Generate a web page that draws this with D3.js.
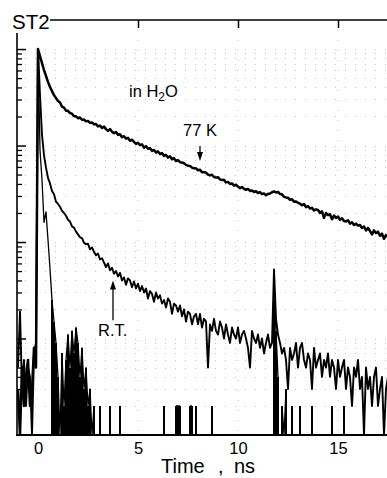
<!DOCTYPE html>
<html>
<head>
<meta charset="utf-8">
<script src="https://cdn.jsdelivr.net/npm/d3@7"></script>
<style>
  html, body { margin: 0; padding: 0; background: #fff; }
  svg { display: block; }
  text { font-family: "Liberation Sans", Arial, Helvetica, sans-serif; fill: #000; }
</style>
</head>
<body>
<svg id="chart" width="387" height="478"></svg>
<script>
// ST2 fluorescence decays in water: photon counts per 0.1 ns channel
const channelStart = -1.0;   // ns, time of the first channel
const channelWidth = 0.1;    // ns per channel

// 77 K decay
const decay77K = [
  3, 1, 5, 2, 4, 6, 2, 3, 8, 5,
  10000, 8460, 7160, 6060, 5260, 4570, 4040, 3660, 3330, 3100,
  2890, 2790, 2530, 2470, 2300, 2290, 2170, 2140, 2010, 2010,
  1920, 1950, 1850, 1860, 1780, 1800, 1720, 1730, 1660, 1670,
  1580, 1610, 1520, 1570, 1480, 1420, 1480, 1390, 1340, 1380,
  1290, 1310, 1220, 1250, 1180, 1200, 1120, 1150, 1090, 1040,
  1070, 1010, 1030, 950, 985, 925, 940, 880, 900, 845,
  870, 815, 835, 780, 800, 750, 775, 720, 740, 690,
  705, 672, 668, 655, 630, 618, 615, 590, 582, 580,
  555, 560, 530, 528, 525, 500, 490, 498, 472, 465,
  470, 445, 440, 442, 415, 420, 400, 405, 385, 392,
  375, 362, 372, 355, 348, 355, 338, 342, 330, 336,
  322, 330, 314, 318, 306, 315, 318, 328, 334, 326,
  330, 315, 312, 294, 290, 288, 274, 277, 262, 263,
  255, 250, 240, 248, 230, 236, 222, 226, 212, 218,
  215, 200, 208, 178, 200, 190, 194, 172, 188, 178,
  184, 170, 176, 165, 163, 168, 155, 160, 150, 155,
  148, 150, 140, 145, 132, 140, 130, 120, 132, 124,
  128, 116, 122, 108, 118, 113
];

// room temperature decay
const decayRT = [
  5, 19, 3, 6, 2, 5, 4, 1, 7, 9,
  10000, 3330, 1290, 790, 590, 462, 405, 338, 312, 262,
  248, 232, 210, 200, 187, 170, 163, 145, 141, 128,
  120, 112, 110, 98, 95, 96, 84, 88, 79, 73,
  76, 66, 68, 61, 55, 60, 51, 54, 47, 50,
  44, 48, 40, 43, 36, 42, 40, 34, 39, 33,
  37, 31, 35, 30, 33, 26, 31, 29, 24, 30,
  26, 28, 23, 25, 21, 26, 24, 18, 23, 22,
  19, 22, 17, 20, 15, 19, 18, 14, 17, 18,
  14, 18, 13, 16, 15, 5, 14, 12, 16, 12,
  11, 15, 13, 10, 14, 11, 9, 13, 11, 10,
  13, 9, 11, 12, 10, 8, 5, 12, 10, 9,
  11, 8, 10, 7, 9, 11, 8, 9, 52, 16,
  11, 9, 7, 8, 6, 3, 8, 6, 7, 9,
  5, 8, 9, 6, 5, 7, 6, 3, 8, 5,
  6, 7, 4, 6, 5, 7, 4, 6, 5, 3,
  6, 4, 5, 6, 3, 5, 4, 2, 5, 4,
  6, 3, 4, 1, 5, 3, 4, 2, 4, 5,
  2, 3, 4, 1, 3, 4
];

// excitation pulse (instrument response)
const pulseResponse = [
  0, 0, 0, 0, 0, 0, 0, 0, 0, 0,
  10000, 900, 439, 160, 205, 105, 53, 25, 15, 9,
  4, 1, 7, 2, 6, 11, 5, 12, 7, 13,
  9, 4, 8, 3, 5, 2, 3, 1, 2, 0,
  0, 2, 0, 0, 0, 0, 2, 0, 0, 0,
  0, 2, 0, 0, 0, 0, 0, 0, 0, 0,
  0, 0, 0, 0, 0, 0, 0, 0, 0, 0,
  0, 0, 0, 2, 0, 0, 0, 0, 0, 2,
  2, 2, 0, 0, 0, 0, 2, 2, 0, 2,
  0, 0, 0, 0, 0, 0, 0, 2, 0, 0,
  0, 0, 0, 0, 0, 0, 0, 0, 0, 0,
  0, 0, 0, 0, 0, 0, 0, 0, 0, 0,
  0, 0, 0, 0, 0, 0, 0, 0, 25, 12,
  4, 0, 2, 1, 3, 0, 0, 2, 0, 0,
  0, 2, 0, 0, 0, 0, 0, 2, 0, 0,
  0, 0, 0, 0, 0, 0, 0, 2, 0, 0,
  0, 0, 0, 2, 0, 0, 0, 0, 0, 0,
  0, 0, 0, 0, 0, 0, 0, 0, 0, 0,
  0, 0, 0, 0, 0, 0
];

const xTickValues = [0, 5, 10, 15];
const xTickLabels = ["0", "5", "10", "15"];
const yMajorTicks = [10, 100, 1000, 10000];
const yMinorTicks = [2, 3, 4, 5, 6, 7, 8, 9, 20, 30, 40, 50, 60, 70, 80, 90,
                     200, 300, 400, 500, 600, 700, 800, 900,
                     2000, 3000, 4000, 5000, 6000, 7000, 8000, 9000];

const svg = d3.select("#chart");
const plotLeft = 17, plotRight = 387, plotTop = 20, plotBottom = 435;

const x = d3.scaleLinear().domain([-1.05, 17.45]).range([plotLeft, plotRight]);
const y = d3.scaleLog().domain([1, 20000]).range([plotBottom, plotTop]);

const times = decay77K.map((_, i) => channelStart + i * channelWidth);

// faint dotted grid
const grid = svg.append("g").attr("stroke", "#c4c4c4").attr("stroke-width", 1)
  .attr("stroke-dasharray", "1,9").attr("fill", "none");
grid.selectAll("line.h").data(yMajorTicks.concat(yMinorTicks)).join("line")
  .attr("class", "h")
  .attr("x1", plotLeft + 8).attr("x2", plotRight)
  .attr("y1", d => Math.round(y(d)) + 0.5).attr("y2", d => Math.round(y(d)) + 0.5);
grid.selectAll("line.v").data(xTickValues.slice(1)).join("line")
  .attr("class", "v")
  .attr("x1", d => x(d)).attr("x2", d => x(d))
  .attr("y1", plotTop + 10).attr("y2", plotBottom);

// data traces
svg.append("clipPath").attr("id", "plotArea").append("rect")
  .attr("x", plotLeft).attr("y", plotTop)
  .attr("width", plotRight - plotLeft).attr("height", plotBottom - plotTop);

const decayLine = d3.line()
  .x((d, i) => x(times[i]))
  .y(d => y(Math.max(d, 1)));
// the pulse trace is broken wherever a channel holds no counts
const pulseLine = d3.line()
  .defined(d => d > 0)
  .x((d, i) => x(times[i]))
  .y(d => y(d));

const traces = svg.append("g").attr("clip-path", "url(#plotArea)")
  .attr("fill", "none").attr("stroke", "#000").attr("stroke-linejoin", "round");

// low pulse channels as needles from the baseline
const pulseIdx = pulseResponse.map((v, i) => i)
  .filter(i => pulseResponse[i] > 1 && pulseResponse[i] < 30);
traces.append("g").attr("stroke-width", 1.5).attr("shape-rendering", "crispEdges")
  .selectAll("line").data(pulseIdx).join("line")
  .attr("x1", i => x(times[i])).attr("x2", i => x(times[i]))
  .attr("y1", y(1)).attr("y2", i => y(pulseResponse[i]));
traces.append("path").datum(pulseResponse).attr("d", pulseLine).attr("stroke-width", 1.3);

traces.append("path").datum(decayRT).attr("d", decayLine).attr("stroke-width", 1.9);
traces.append("path").datum(decay77K).attr("d", decayLine).attr("stroke-width", 2.5);

// left axis, ticks pointing into the plot
svg.append("g").attr("transform", `translate(${plotLeft},0)`)
  .call(d3.axisLeft(y).tickValues(yMajorTicks).tickSize(-9).tickFormat(""))
  .call(g => g.select(".domain").remove())
  .call(g => g.selectAll("line").attr("stroke-width", 1.5));
svg.append("g").attr("transform", `translate(${plotLeft},0)`)
  .call(d3.axisLeft(y).tickValues(yMinorTicks).tickSize(-5).tickFormat(""))
  .call(g => g.select(".domain").remove())
  .call(g => g.selectAll("line").attr("stroke-width", 1.3));

// top axis with inward ticks
svg.append("g").attr("transform", `translate(0,${plotTop})`)
  .call(d3.axisTop(x).tickValues(xTickValues.slice(1)).tickSize(-8).tickFormat(""))
  .call(g => g.select(".domain").remove())
  .call(g => g.selectAll("line").attr("stroke-width", 1.5));

// bottom axis with labels
svg.append("g").attr("transform", `translate(0,${plotBottom})`)
  .call(d3.axisBottom(x).tickValues(xTickValues).tickSize(0)
        .tickFormat((d, i) => xTickLabels[i]))
  .call(g => g.select(".domain").remove())
  .call(g => g.selectAll("text").attr("y", 19).attr("dy", 0)
        .attr("font-size", 16.5).attr("fill", "#000")
        .style("font-family", '"Liberation Sans", Arial, Helvetica, sans-serif'));

// frame lines
svg.append("line").attr("x1", plotLeft).attr("x2", plotLeft).attr("y1", 33).attr("y2", plotBottom + 1)
  .attr("stroke", "#000").attr("stroke-width", 1.6);
svg.append("line").attr("x1", 50).attr("x2", plotRight).attr("y1", plotTop).attr("y2", plotTop)
  .attr("stroke", "#000").attr("stroke-width", 1.6);
svg.append("line").attr("x1", plotLeft - 1).attr("x2", plotRight).attr("y1", plotBottom).attr("y2", plotBottom)
  .attr("stroke", "#000").attr("stroke-width", 2.2);

// sample label
svg.append("text").attr("x", 12).attr("y", 29).attr("font-size", 20.5).text("ST2");

// axis title
const title = svg.append("text").attr("y", 473).attr("font-size", 20);
title.append("tspan").attr("x", 161).text("Time");
title.append("tspan").attr("x", 218).text(",");
title.append("tspan").attr("x", 234).text("ns");

// annotations
const solvent = svg.append("text").attr("x", x(4.55)).attr("y", y(3180)).attr("font-size", 16.5);
solvent.append("tspan").text("in H");
solvent.append("tspan").attr("font-size", 12).attr("dy", 4).text("2");
solvent.append("tspan").attr("dy", -4).text("O");

svg.append("text").attr("x", x(7.25)).attr("y", y(1250)).attr("font-size", 16.5).text("77 K");
svg.append("text").attr("x", x(3.0)).attr("y", y(10.5)).attr("font-size", 16.5).text("R.T.");

function arrow(t, fromCount, toCount) {
  const ax = x(t), y0 = y(fromCount), y1 = y(toCount);
  const dir = y1 > y0 ? 1 : -1;
  svg.append("line").attr("x1", ax).attr("x2", ax).attr("y1", y0).attr("y2", y1 - dir * 6)
    .attr("stroke", "#000").attr("stroke-width", 1.3);
  svg.append("path")
    .attr("d", `M${ax},${y1} L${ax - 3},${y1 - dir * 9} L${ax + 3},${y1 - dir * 9} Z`)
    .attr("fill", "#000");
}
arrow(8.1, 990, 690);
arrow(3.75, 15.5, 40);
</script>
</body>
</html>
